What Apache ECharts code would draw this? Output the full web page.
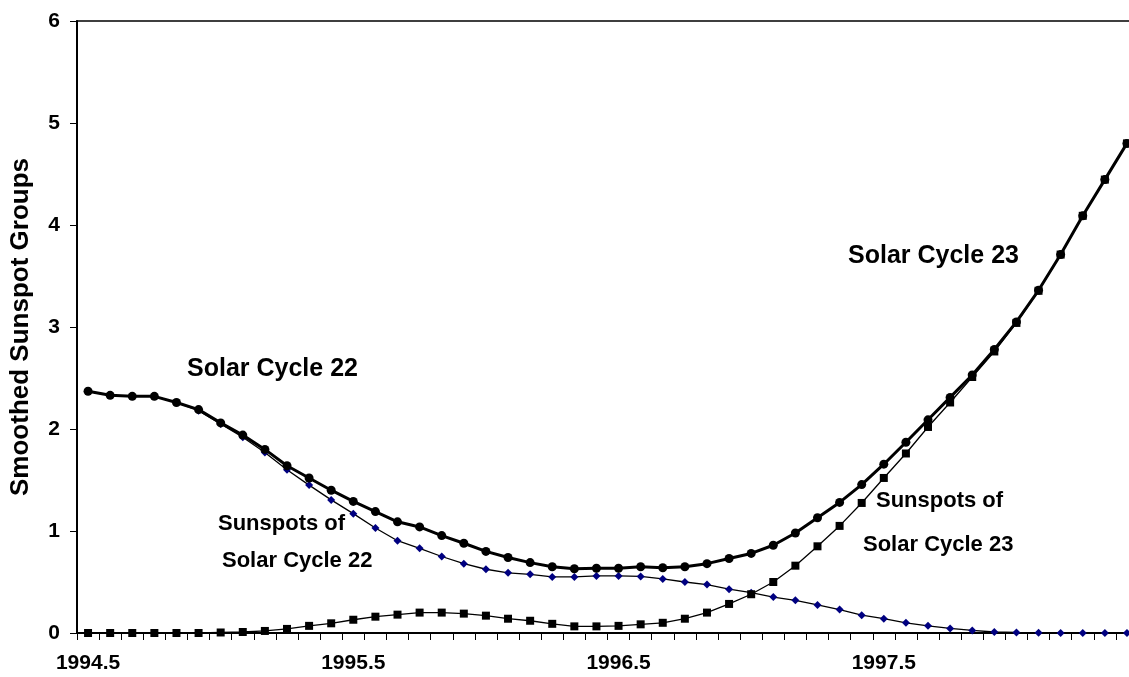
<!DOCTYPE html>
<html>
<head>
<meta charset="utf-8">
<script src="https://cdn.jsdelivr.net/npm/echarts@6/dist/echarts.min.js"></script>
<style>
html,body{margin:0;padding:0;background:#fff;}
#chart{width:1129px;height:677px;}
</style>
</head>
<body>
<div id="chart"></div>
<script>
// Monthly categories starting at 1994.5
var startYear = 1994.5;
var nMonths = 48;
var categories = [];
for (var i = 0; i < nMonths; i++) { categories.push((startYear + i / 12).toFixed(3)); }
var tickLabels = ['1994.5', '1995.5', '1996.5', '1997.5'];

var totalGroups = [2.37,2.33,2.32,2.32,2.26,2.19,2.06,1.94,1.80,1.64,
  1.52,1.40,1.29,1.19,1.09,1.04,0.955,0.88,0.80,0.74,
  0.69,0.65,0.63,0.635,0.635,0.65,0.64,0.65,0.68,0.73,
  0.78,0.86,0.98,1.13,1.28,1.455,1.655,1.87,2.09,2.31,
  2.53,2.78,3.05,3.36,3.71,4.09,4.445,4.80];

var cycle22 = [2.37,2.33,2.32,2.32,2.26,2.18,2.05,1.92,1.77,1.60,
  1.45,1.305,1.17,1.03,0.905,0.83,0.75,0.68,0.625,0.59,
  0.575,0.55,0.55,0.56,0.56,0.555,0.53,0.50,0.475,0.43,
  0.395,0.352,0.32,0.275,0.23,0.175,0.14,0.10,0.07,0.045,
  0.025,0.01,0.005,0.002,0,0,0,0];

var cycle23 = [0,0,0,0,0,0,0.005,0.01,0.02,0.04,
  0.07,0.095,0.13,0.16,0.18,0.20,0.20,0.19,0.17,0.14,
  0.12,0.09,0.065,0.065,0.07,0.085,0.10,0.14,0.20,0.285,
  0.38,0.50,0.66,0.85,1.05,1.275,1.52,1.76,2.02,2.26,
  2.51,2.76,3.04,3.355,3.71,4.09,4.445,4.80];

var FONT = '"Liberation Sans", Arial, Helvetica, sans-serif';

var chart = echarts.init(document.getElementById('chart'), null, {renderer: 'canvas'});
var labelMap = {};
for (var k = 0; k < tickLabels.length; k++) { labelMap[k * 12] = tickLabels[k]; }

chart.setOption({
  animation: false,
  backgroundColor: '#ffffff',
  grid: {
    left: 77, top: 21, width: 1061, height: 612,
    outerBoundsMode: 'none',
    containLabel: false,
    show: true, borderColor: '#000', borderWidth: 1.5, backgroundColor: 'transparent'
  },
  xAxis: {
    type: 'category',
    data: categories,
    boundaryGap: true,
    axisLine: {lineStyle: {color: '#000', width: 2}},
    axisTick: {show: true, interval: 0, length: 7, lineStyle: {color: '#000', width: 1}},
    axisLabel: {
      interval: 0,
      margin: 20,
      color: '#000', fontWeight: 'bold', fontSize: 21, fontFamily: FONT,
      formatter: function (v, idx) { return labelMap[idx] !== undefined ? labelMap[idx] : ''; }
    },
    splitLine: {show: false}
  },
  yAxis: {
    type: 'value',
    min: 0, max: 6, interval: 1,
    name: 'Smoothed Sunspot Groups',
    nameLocation: 'middle',
    nameRotate: 90,
    nameGap: 43,
    nameTextStyle: {color: '#000', fontWeight: 'bold', fontSize: 26, fontFamily: FONT},
    axisLine: {show: true, lineStyle: {color: '#000', width: 2}},
    axisTick: {show: true, inside: false, length: 7, lineStyle: {color: '#000', width: 1}},
    axisLabel: {margin: 17, color: '#000', fontWeight: 'bold', fontSize: 21, fontFamily: FONT},
    splitLine: {show: false}
  },
  series: [
    {
      name: 'Sunspots of Solar Cycle 22',
      type: 'line',
      data: cycle22,
      symbol: 'diamond', symbolSize: 8, showAllSymbol: true,
      lineStyle: {color: '#000', width: 1.3},
      itemStyle: {color: '#000080', borderColor: '#000080', borderWidth: 0},
      z: 2
    },
    {
      name: 'Sunspots of Solar Cycle 23',
      type: 'line',
      data: cycle23,
      symbol: 'rect', symbolSize: 8, showAllSymbol: true,
      lineStyle: {color: '#000', width: 1.3},
      itemStyle: {color: '#000', borderWidth: 0},
      z: 3
    },
    {
      name: 'Total',
      type: 'line',
      data: totalGroups,
      symbol: 'circle', symbolSize: 9, showAllSymbol: true,
      lineStyle: {color: '#000', width: 3},
      itemStyle: {color: '#000', borderWidth: 0},
      z: 4
    }
  ],
  graphic: [
    {type: 'text', left: 187, top: 357, style: {text: 'Solar Cycle 22', fill: '#000', font: 'bold 25px ' + FONT}},
    {type: 'text', left: 848, top: 244, style: {text: 'Solar Cycle 23', fill: '#000', font: 'bold 25px ' + FONT}},
    {type: 'text', left: 218, top: 513, style: {text: 'Sunspots of', fill: '#000', font: 'bold 22px ' + FONT}},
    {type: 'text', left: 222, top: 550, style: {text: 'Solar Cycle 22', fill: '#000', font: 'bold 22px ' + FONT}},
    {type: 'text', left: 876, top: 490, style: {text: 'Sunspots of', fill: '#000', font: 'bold 22px ' + FONT}},
    {type: 'text', left: 863, top: 534, style: {text: 'Solar Cycle 23', fill: '#000', font: 'bold 22px ' + FONT}}
  ]
});
</script>
</body>
</html>
